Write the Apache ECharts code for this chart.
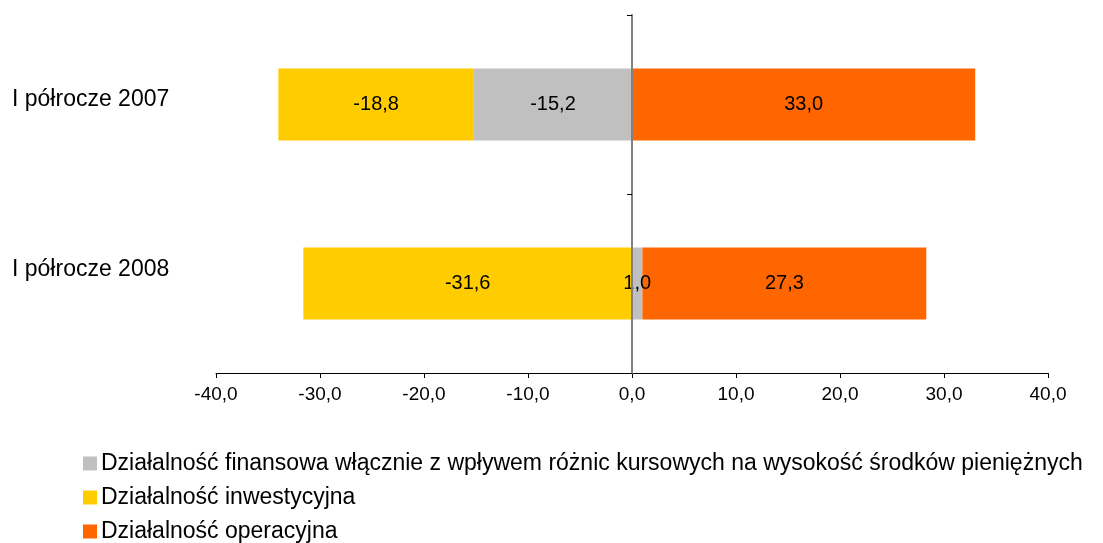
<!DOCTYPE html>
<html>
<head>
<meta charset="utf-8">
<script src="https://cdn.jsdelivr.net/npm/echarts@6/dist/echarts.min.js"></script>
<style>
html,body{margin:0;padding:0;background:#fff;}
#chart{width:1103px;height:543px;}
</style>
</head>
<body>
<div id="chart"></div>
<script>
const categories = ['I półrocze 2007', 'I półrocze 2008'];
const seriesNames = [
  'Działalność finansowa włącznie z wpływem różnic kursowych na wysokość środków pieniężnych',
  'Działalność inwestycyjna',
  'Działalność operacyjna'
];
const financial = [-15.2, 1.0];
const investment = [-18.8, -31.6];
const operating = [33.0, 27.3];
const colors = ['#C0C0C0', '#FFCC00', '#FF6600'];
const xMin = -40, xMax = 40, xStep = 10;

const FONT = '"Liberation Sans", Arial, sans-serif';
const fmt = v => Number(v).toFixed(1).replace('.', ',');

const chart = echarts.init(document.getElementById('chart'));
const mk = (name, data, color) => ({
  name, type: 'bar', stack: 'total', data, barWidth: 72,
  itemStyle: { color },
  label: {
    show: true, position: 'inside', color: '#000', fontFamily: FONT, fontSize: 20,
    formatter: p => fmt(p.value)
  }
});
chart.setOption({
  animation: false,
  backgroundColor: '#fff',
  grid: { left: 216, right: 55, top: 15, bottom: 170 },
  xAxis: {
    type: 'value', min: xMin, max: xMax, interval: xStep,
    splitLine: { show: false },
    axisLine: { show: true, lineStyle: { color: '#000', width: 1 } },
    axisTick: { show: true, length: 5, lineStyle: { color: '#000' } },
    axisLabel: { color: '#000', fontFamily: FONT, fontSize: 19, margin: 12, formatter: v => fmt(v) }
  },
  yAxis: [
    {
      type: 'category', data: categories, inverse: true, z: 10,
      axisLine: { show: true, onZero: true, lineStyle: { color: '#808080', width: 2 } },
      axisTick: { show: true, length: 5, lineStyle: { color: '#000', width: 1 } },
      axisLabel: { show: false }
    },
    {
      type: 'category', data: categories, inverse: true, position: 'left',
      axisLine: { show: false, onZero: false },
      axisTick: { show: false },
      axisLabel: {
        show: true, align: 'left', margin: 204, color: '#000', fontFamily: FONT, fontSize: 23,
        formatter: (v, i) => '{c' + i + '|' + v + '}',
        rich: {
          c0: { fontFamily: FONT, fontSize: 23, color: '#000', padding: [0, 0, 9, 0] },
          c1: { fontFamily: FONT, fontSize: 23, color: '#000', padding: [0, 0, 27, 0] }
        }
      }
    }
  ],
  legend: {
    orient: 'vertical', left: 78, top: 447, height: 250, icon: 'rect',
    itemWidth: 14, itemHeight: 14, itemGap: 11,
    data: seriesNames,
    textStyle: { color: '#000', fontFamily: FONT, fontSize: 23, lineHeight: 22, padding: [0, 0, 0, -1] }
  },
  series: [
    mk(seriesNames[0], financial, colors[0]),
    mk(seriesNames[1], investment, colors[1]),
    mk(seriesNames[2], operating, colors[2])
  ]
});
</script>
</body>
</html>
